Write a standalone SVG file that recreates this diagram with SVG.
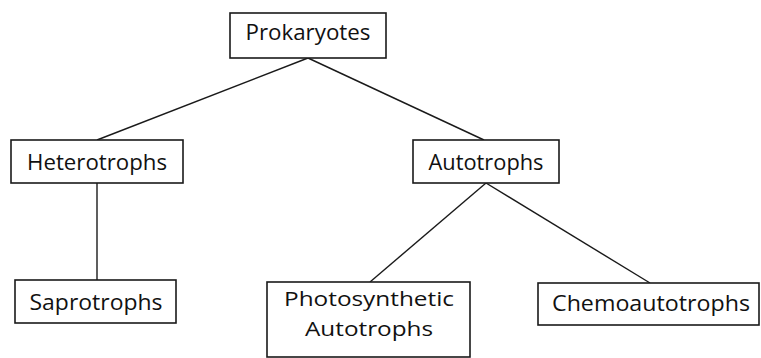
<svg xmlns="http://www.w3.org/2000/svg" width="761" height="358" viewBox="0 0 761 358">
<style>
.box{fill:#fff;stroke:#1a1a1a;stroke-width:1.6}
.lbl{font-family:"Open Sans","Noto Sans",sans-serif;font-size:21px;fill:#111;text-anchor:middle}
.big{font-size:20.5px}
.con line{stroke:#1a1a1a;stroke-width:1.4}
</style>
<rect width="761" height="358" fill="#fff"/>
<g class="con" id="connectors">
<line x1="308" y1="58" x2="97" y2="140"/>
<line x1="308" y1="58" x2="484" y2="140"/>
<line x1="97" y1="183" x2="97" y2="280"/>
<line x1="486" y1="183" x2="370" y2="282"/>
<line x1="486" y1="183" x2="650" y2="283"/>
</g>
<g id="prokaryotes"><rect class="box" x="230" y="13" width="156" height="45"/><text class="lbl" x="308" y="40" textLength="125" lengthAdjust="spacingAndGlyphs">Prokaryotes</text></g>
<g id="heterotrophs"><rect class="box" x="11" y="140" width="172" height="43"/><text class="lbl" x="97" y="170" textLength="140" lengthAdjust="spacingAndGlyphs">Heterotrophs</text></g>
<g id="autotrophs"><rect class="box" x="413" y="140" width="146" height="43"/><text class="lbl" x="486" y="170" textLength="115" lengthAdjust="spacingAndGlyphs">Autotrophs</text></g>
<g id="saprotrophs"><rect class="box" x="15" y="280" width="161" height="43"/><text class="lbl" x="96" y="310" textLength="133" lengthAdjust="spacingAndGlyphs">Saprotrophs</text></g>
<g id="photosynthetic"><rect class="box" x="267" y="282" width="203" height="75"/><text class="lbl big" x="369" y="306" textLength="170" lengthAdjust="spacingAndGlyphs">Photosynthetic</text><text class="lbl big" x="369" y="336" textLength="128" lengthAdjust="spacingAndGlyphs">Autotrophs</text></g>
<g id="chemoautotrophs"><rect class="box" x="538" y="283" width="221" height="42"/><text class="lbl" x="651" y="311" textLength="198" lengthAdjust="spacingAndGlyphs">Chemoautotrophs</text></g>
</svg>
